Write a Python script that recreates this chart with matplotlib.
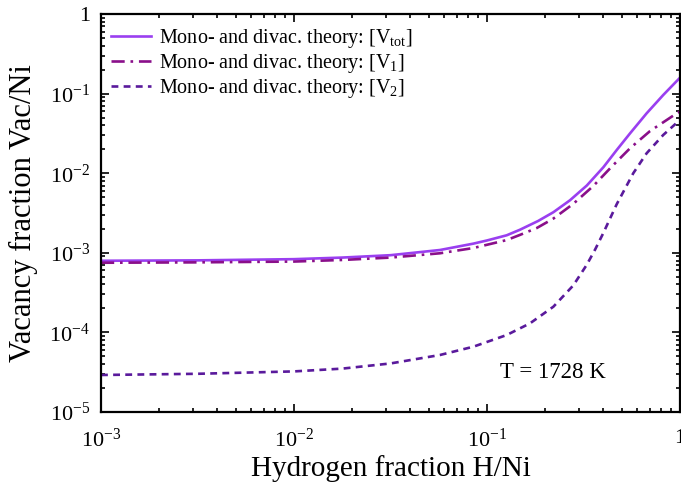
import numpy as np
import matplotlib
matplotlib.use('Agg')
import matplotlib.pyplot as plt
from matplotlib.ticker import FixedLocator, FixedFormatter, LogLocator, NullFormatter

# fonts: Times-like serif for everything, including the exponents
plt.rcParams['font.family'] = 'Liberation Serif'
plt.rcParams['mathtext.fontset'] = 'custom'
plt.rcParams['mathtext.rm'] = 'Liberation Serif'
plt.rcParams['mathtext.it'] = 'Liberation Serif:italic'

# log10 of hydrogen fraction H/Ni and of vacancy fraction, per curve
logH_tot = [-3.0, -2.5, -2.0, -1.75, -1.5, -1.244, -1.071, -1.0, -0.898, -0.829, -0.735,
            -0.656, -0.570, -0.483, -0.397, -0.328, -0.259, -0.173, -0.087, 0.0]
logV_tot = [-3.10, -3.095, -3.08, -3.06, -3.03, -2.965, -2.885, -2.845, -2.78, -2.71, -2.60,
            -2.49, -2.34, -2.155, -1.925, -1.709, -1.50, -1.248, -1.018, -0.80]

logH_1 = [-3.0, -2.5, -2.0, -1.75, -1.5, -1.244, -1.071, -0.898, -0.829, -0.743, -0.656,
          -0.553, -0.449, -0.354, -0.259, -0.155, -0.043, 0.0]
logV_1 = [-3.125, -3.12, -3.11, -3.09, -3.06, -3.006, -2.94, -2.84, -2.775, -2.69, -2.57,
          -2.385, -2.16, -1.918, -1.687, -1.47, -1.29, -1.225]

logH_2 = [-3.0, -2.5, -2.0, -1.75, -1.5, -1.244, -1.071, -0.898, -0.777, -0.656, -0.553,
          -0.483, -0.44, -0.397, -0.328, -0.242, -0.173, -0.087, 0.0]
logV_2 = [-4.535, -4.52, -4.49, -4.455, -4.39, -4.284, -4.18, -4.033, -3.886, -3.677, -3.41,
          -3.15, -2.96, -2.75, -2.39, -2.00, -1.75, -1.52, -1.33]

labels = ['Mono- and divac. theory: [V$\\mathregular{_{tot}}$]',
          'Mono- and divac. theory: [V$\\mathregular{_1}$]',
          'Mono- and divac. theory: [V$\\mathregular{_2}$]']
colors = ['#9a3ff0', '#8a0f8a', '#5a1a9c']

xTickVals = [1e-3, 1e-2, 1e-1, 1]
xTickText = ['$\\mathregular{10^{-3}}$', '$\\mathregular{10^{-2}}$', '$\\mathregular{10^{-1}}$', '1']
yTickVals = [1e-5, 1e-4, 1e-3, 1e-2, 1e-1, 1]
yTickText = ['$\\mathregular{10^{-5}}$', '$\\mathregular{10^{-4}}$', '$\\mathregular{10^{-3}}$',
             '$\\mathregular{10^{-2}}$', '$\\mathregular{10^{-1}}$', '1']

fig = plt.figure(figsize=(6.81, 4.91), dpi=100)
ax = fig.add_axes([101/681, 1 - 412/491, 579/681, 398/491])

ax.plot(10**np.array(logH_tot), 10**np.array(logV_tot), color=colors[0], lw=1.9,
        ls='-', label=labels[0])
ax.plot(10**np.array(logH_1), 10**np.array(logV_1), color=colors[1], lw=1.9,
        ls=(0, (5, 2.2, 1, 2.2)), label=labels[1])
ax.plot(10**np.array(logH_2), 10**np.array(logV_2), color=colors[2], lw=1.9,
        ls=(0, (2.6, 2.0)), label=labels[2])

ax.set_xscale('log')
ax.set_yscale('log')
ax.set_xlim(1e-3, 1)
ax.set_ylim(1e-5, 1)

ax.xaxis.set_major_locator(FixedLocator(xTickVals))
ax.xaxis.set_major_formatter(FixedFormatter(xTickText))
ax.yaxis.set_major_locator(FixedLocator(yTickVals))
ax.yaxis.set_major_formatter(FixedFormatter(yTickText))
ax.xaxis.set_minor_locator(LogLocator(base=10, subs=np.arange(2, 10), numticks=20))
ax.yaxis.set_minor_locator(LogLocator(base=10, subs=np.arange(2, 10), numticks=20))
ax.xaxis.set_minor_formatter(NullFormatter())
ax.yaxis.set_minor_formatter(NullFormatter())

ax.tick_params(which='both', direction='in', top=True, right=True, labelsize=16, width=1.2)
ax.tick_params(which='major', length=6)
ax.tick_params(which='minor', length=3)
ax.tick_params(axis='x', which='major', pad=12)
ax.tick_params(axis='y', which='major', pad=8)
for s in ax.spines.values():
    s.set_linewidth(1.6)

ax.set_xlabel('Hydrogen fraction H/Ni', fontsize=21, labelpad=2)
ax.set_ylabel('Vacancy fraction Vac/Ni', fontsize=22, labelpad=8)

ax.text(0.41, 3.1e-5, 'T = 1728 K', fontsize=16.5, ha='right', va='center')

ax.legend(loc='upper left', frameon=False, fontsize=14.5, handlelength=2.0,
          handletextpad=0.4, labelspacing=0.1, borderaxespad=0.1,
          bbox_to_anchor=(0.0, 0.992))

fig.savefig('out.png', dpi=100)
